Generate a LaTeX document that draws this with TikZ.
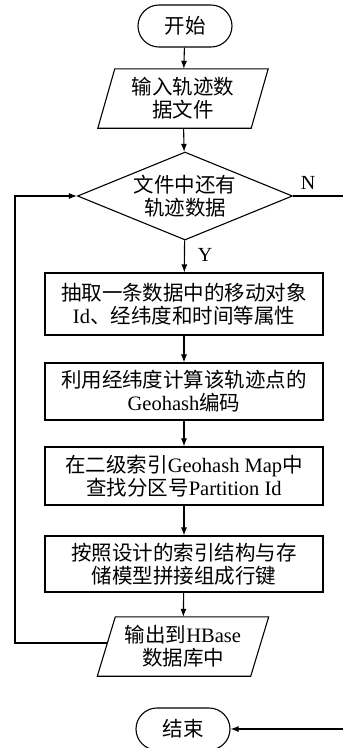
\documentclass[tikz,border=0pt]{standalone}
\usepackage{fontspec}
\setmainfont{Liberation Serif}
\newfontfamily\cjk{Noto Sans CJK SC}
\usetikzlibrary{arrows.meta,shapes.geometric,calc}
\begin{document}
\begin{tikzpicture}[x=1pt,y=-1pt,
  every node/.style={font=\fontsize{20.5}{23}\selectfont, align=center, inner sep=0pt},
  line/.style={line width=1.1pt},
  arr/.style={line width=1.1pt,-{Latex[length=8pt,width=6pt]}},
  term/.style={draw,line width=1.1pt,rounded corners=21pt,minimum width=94pt,minimum height=42pt},
  proc/.style={draw,line width=1.1pt,minimum width=278pt},
  dec/.style={draw,diamond,line width=1.1pt,aspect=2.44,minimum width=215pt,minimum height=88pt},
  io/.style={minimum width=153pt,minimum height=59pt},
  lbl/.style={font=\fontsize{20}{22}\selectfont}
]
\useasboundingbox (0,0) rectangle (343,748);
\clip (0,0) rectangle (343,748);

\node[term] (start) at (185,26) {{\cjk 开始}};
\node[io] (in) at (183,98.5) {{\cjk 输入轨迹数}\\{\cjk 据文件}};
\draw[line] ($(in.north west)+(8.5,0)$) -- ($(in.north east)+(8.5,0)$) -- ($(in.south east)+(-8.5,0)$) -- ($(in.south west)+(-8.5,0)$) -- cycle;
\node[dec] (dec) at (185,196) {{\cjk 文件中还有}\\{\cjk 轨迹数据}};
\node[proc,minimum height=62pt] (b1) at (184,304) {{\cjk 抽取一条数据中的移动对象}\\Id{\cjk 、经纬度和时间等属性}};
\node[proc,minimum height=57pt] (b2) at (184,391.5) {{\cjk 利用经纬度计算该轨迹点的}\\Geohash{\cjk 编码}};
\node[proc,minimum height=58pt] (b3) at (184,476) {{\cjk 在二级索引}Geohash Map{\cjk 中}\\{\cjk 查找分区号}Partition Id};
\node[proc,minimum height=56pt] (b4) at (184,564) {{\cjk 按照设计的索引结构与存}\\{\cjk 储模型拼接组成行键}};
\node[io] (out) at (183,646.5) {{\cjk 输出到}HBase\\{\cjk 数据库中}};
\draw[line] ($(out.north west)+(9,0)$) -- ($(out.north east)+(9,0)$) -- ($(out.south east)+(-9,0)$) -- ($(out.south west)+(-9,0)$) -- cycle;
\node[term] (end) at (183,729) {{\cjk 结束}};

\node[lbl] (nl) at (308,183) {N};
\node[lbl] (yl) at (205,255) {Y};

\coordinate (lx) at (15,196);
\coordinate (rx) at (352,196);

\draw[arr] (start) -- (in);
\draw[arr] (in) -- (dec);
\draw[arr] (dec) -- (b1);
\draw[arr] (b1) -- (b2);
\draw[arr] (b2) -- (b3);
\draw[arr] (b3) -- (b4);
\draw[arr] (b4) -- (out);
\draw[arr] ($(out.west)+(1,-3.5)$) -| (lx) -- (dec.west);
\draw[arr] (dec.east) -- (rx) |- (end.east);
\end{tikzpicture}
\end{document}
